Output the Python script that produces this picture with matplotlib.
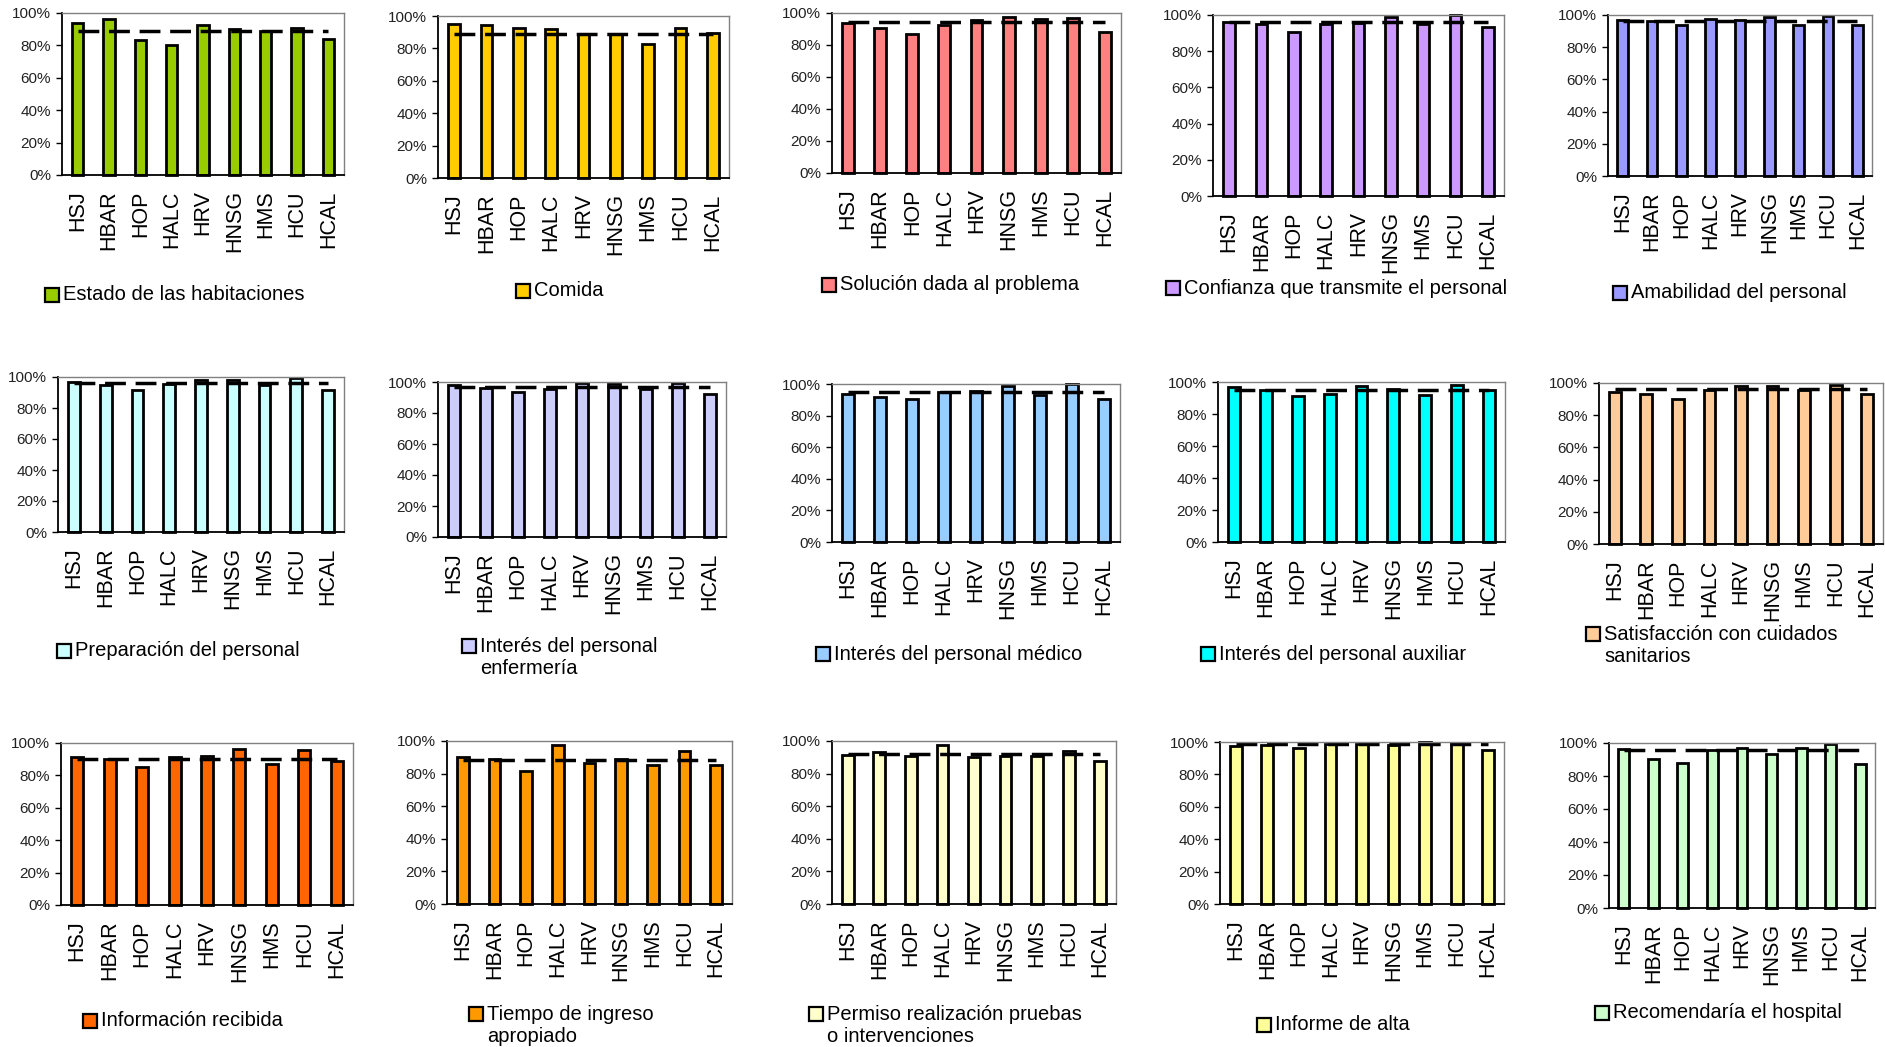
import matplotlib
matplotlib.use("Agg")
import matplotlib.pyplot as plt
from matplotlib.patches import Rectangle
from matplotlib.ticker import PercentFormatter

plt.rcParams["font.family"] = ["Liberation Sans", "DejaVu Sans"]

W, H = 1885, 1047

hospitales = ["HSJ", "HBAR", "HOP", "HALC", "HRV", "HNSG", "HMS", "HCU", "HCAL"]

# porcentaje de satisfaccion por hospital (%)
estado = [94.0, 96.1, 83.3, 80.0, 92.4, 90.1, 88.7, 90.9, 83.7]
comida = [95.1, 94.4, 92.6, 91.8, 89.1, 89.1, 82.7, 92.6, 89.3]
solucion = [93.7, 90.4, 86.8, 92.3, 95.8, 97.3, 96.2, 96.9, 88.1]
confianza = [95.9, 94.8, 90.6, 95.0, 95.8, 99.1, 95.0, 100.0, 93.5]
amabilidad = [96.9, 96.1, 93.6, 97.3, 96.7, 98.8, 94.0, 99.2, 93.6]
preparacion = [96.8, 94.8, 91.8, 95.5, 97.8, 98.3, 94.8, 99.4, 91.8]
enfermeria = [97.8, 95.9, 93.5, 95.3, 99.4, 98.7, 95.7, 99.6, 92.0]
medico = [93.9, 91.9, 90.5, 94.9, 95.6, 98.9, 92.8, 100.0, 90.3]
auxiliar = [96.9, 95.0, 91.2, 92.5, 97.7, 95.8, 92.1, 98.3, 95.0]
cuidados = [94.4, 93.2, 89.8, 95.6, 97.9, 98.3, 95.4, 99.0, 93.2]
informacion = [91.2, 89.9, 85.2, 91.2, 91.8, 96.1, 87.1, 95.9, 88.9]
tiempo = [90.2, 88.8, 81.9, 97.4, 86.6, 89.2, 85.3, 93.7, 85.5]
permiso = [91.2, 93.5, 91.0, 97.4, 90.2, 91.0, 90.6, 93.7, 88.0]
alta = [97.5, 97.9, 96.5, 98.6, 98.6, 98.2, 99.8, 99.6, 95.3]
recomendaria = [96.6, 90.3, 88.1, 95.6, 97.0, 93.6, 97.2, 99.6, 87.1]

# media del conjunto de hospitales (linea discontinua)
medias = [89.1, 88.7, 94.4, 95.9, 96.1,
          96.1, 96.8, 94.9, 95.2, 96.3,
          90.3, 88.6, 91.9, 99.0, 96.0]

series = [estado, comida, solucion, confianza, amabilidad,
          preparacion, enfermeria, medico, auxiliar, cuidados,
          informacion, tiempo, permiso, alta, recomendaria]

etiquetas = ["Estado de las habitaciones", "Comida", "Solución dada al problema",
             "Confianza que transmite el personal", "Amabilidad del personal",
             "Preparación del personal", "Interés del personal\nenfermería",
             "Interés del personal médico", "Interés del personal auxiliar",
             "Satisfacción con cuidados\nsanitarios",
             "Información recibida", "Tiempo de ingreso\napropiado",
             "Permiso realización pruebas\no intervenciones", "Informe de alta",
             "Recomendaría el hospital"]

colores = ["#99CC00", "#FFCC00", "#FF8080", "#CC99FF", "#9999FF",
           "#CCFFFF", "#CCCCFF", "#99CCFF", "#00FFFF", "#FFCC99",
           "#FF6600", "#FF9900", "#FFFFCC", "#FFFF99", "#CCFFCC"]

# cajas de los ejes en pixeles: izquierda, arriba, derecha, abajo
cajas = [(62, 13, 344, 175), (438, 16, 729, 178), (832, 13, 1121, 173),
         (1213, 15, 1504, 196), (1608, 15, 1872, 176),
         (58, 377, 344, 532), (438, 382, 726, 537), (832, 384, 1120, 542),
         (1218, 382, 1505, 542), (1599, 383, 1883, 544),
         (61, 743, 353, 905), (447, 741, 732, 904), (832, 741, 1116, 904),
         (1220, 742, 1504, 904), (1609, 743, 1875, 908)]

# leyendas: x del cuadro, y del centro del texto
leyendas = [(45, 295), (516, 291), (822, 285), (1166, 288), (1613, 293),
            (57, 651), (462, 657), (816, 654), (1201, 654), (1586, 645),
            (83, 1021), (469, 1025), (809, 1025), (1257, 1025), (1595, 1013)]

fig = plt.figure(figsize=(W / 100, H / 100), dpi=100)

for i, valores in enumerate(series):
    l, t, r, b = cajas[i]
    ax = fig.add_axes([l / W, 1 - b / H, (r - l) / W, (b - t) / H])
    x = list(range(len(hospitales)))
    ax.bar(x, valores, width=0.37, color=colores[i], edgecolor="black",
           linewidth=2.0, clip_on=False)
    ax.plot(x, [medias[i]] * len(x), color="black", lw=2.5, dashes=(6, 2.8))
    ax.set_xlim(-0.5, len(x) - 0.5)
    ax.set_ylim(0, 100)
    ax.set_yticks(range(0, 101, 20))
    ax.yaxis.set_major_formatter(PercentFormatter(decimals=0))
    ax.set_xticks(x)
    ax.set_xticklabels(hospitales, rotation=90, fontsize=15.5)
    ax.tick_params(axis="x", length=0, pad=11)
    ax.tick_params(axis="y", length=4, width=1, pad=4, labelsize=11,
                   labelcolor="#222222")
    for lado in ("top", "right"):
        ax.spines[lado].set_color("#808080")
        ax.spines[lado].set_linewidth(1)
    for lado in ("left", "bottom"):
        ax.spines[lado].set_color("black")
        ax.spines[lado].set_linewidth(1.3)

    lx, ly = leyendas[i]
    lineas = etiquetas[i].count("\n") + 1
    cy = ly if lineas == 1 else ly - 11.5
    fig.add_artist(Rectangle((lx / W, 1 - (cy + 7) / H), 14 / W, 14 / H,
                             transform=fig.transFigure, facecolor=colores[i],
                             edgecolor="black", linewidth=1.6))
    fig.text((lx + 18) / W, 1 - ly / H, etiquetas[i], fontsize=14.5,
             ha="left", va="center", linespacing=1.2)

fig.savefig("out.png", dpi=100)
